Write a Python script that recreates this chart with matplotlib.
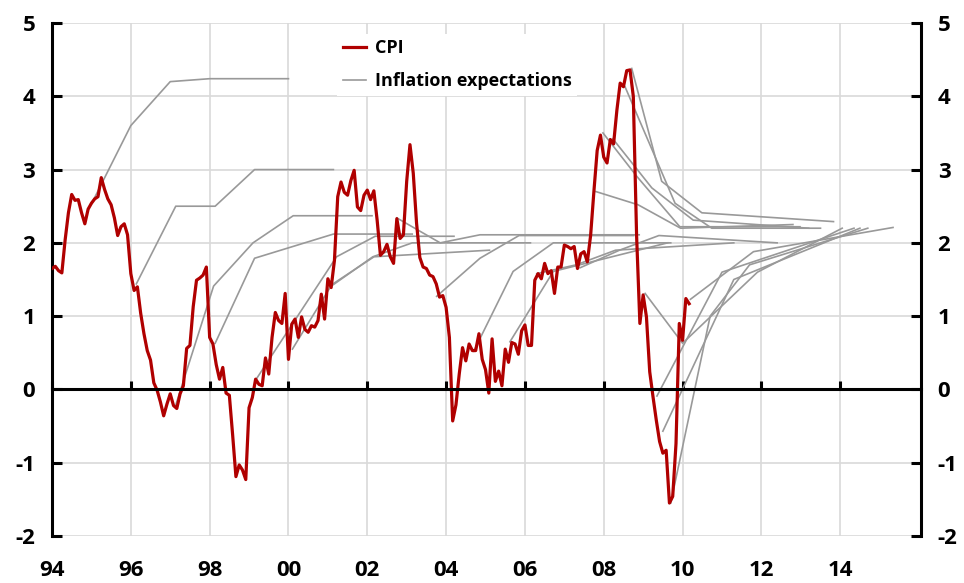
import matplotlib
matplotlib.use("Agg")
import matplotlib.pyplot as plt
import numpy as np

plt.rcParams['font.family'] = ['Open Sans', 'DejaVu Sans']
plt.rcParams['axes.unicode_minus'] = False

# CPI, monthly from Jan 1994
cpi_1994 = [1.65, 1.68, 1.62, 1.59, 2.04, 2.41, 2.66, 2.58, 2.59, 2.41, 2.26, 2.46]
cpi_1995 = [2.54, 2.60, 2.63, 2.89, 2.73, 2.60, 2.52, 2.34, 2.10, 2.22, 2.26, 2.11]
cpi_1996 = [1.58, 1.35, 1.40, 1.04, 0.76, 0.53, 0.40, 0.09, -0.01, -0.17, -0.36, -0.20]
cpi_1997 = [-0.06, -0.22, -0.26, -0.06, 0.05, 0.56, 0.60, 1.13, 1.49, 1.52, 1.56, 1.67]
cpi_1998 = [0.71, 0.62, 0.34, 0.14, 0.30, -0.05, -0.08, -0.62, -1.19, -1.03, -1.10, -1.23]
cpi_1999 = [-0.25, -0.11, 0.14, 0.07, 0.05, 0.43, 0.21, 0.71, 1.05, 0.94, 0.90, 1.31]
cpi_2000 = [0.41, 0.89, 0.96, 0.71, 0.99, 0.82, 0.78, 0.87, 0.85, 0.94, 1.30, 0.96]
cpi_2001 = [1.51, 1.39, 1.76, 2.63, 2.83, 2.69, 2.65, 2.85, 2.99, 2.49, 2.44, 2.65]
cpi_2002 = [2.72, 2.59, 2.71, 2.31, 1.83, 1.88, 1.98, 1.81, 1.72, 2.33, 2.06, 2.11]
cpi_2003 = [2.84, 3.34, 2.95, 2.27, 1.80, 1.67, 1.65, 1.56, 1.54, 1.44, 1.26, 1.28]
cpi_2004 = [1.12, 0.71, -0.43, -0.21, 0.21, 0.57, 0.39, 0.62, 0.53, 0.53, 0.76, 0.41]
cpi_2005 = [0.27, -0.05, 0.69, 0.11, 0.25, 0.05, 0.55, 0.37, 0.64, 0.62, 0.48, 0.80]
cpi_2006 = [0.88, 0.60, 0.60, 1.49, 1.58, 1.51, 1.72, 1.58, 1.62, 1.31, 1.67, 1.67]
cpi_2007 = [1.97, 1.95, 1.92, 1.95, 1.65, 1.85, 1.88, 1.74, 2.10, 2.70, 3.26, 3.47]
cpi_2008 = [3.17, 3.09, 3.41, 3.35, 3.81, 4.18, 4.13, 4.35, 4.36, 4.00, 2.10, 0.90]
cpi_2009 = [1.29, 0.99, 0.24, -0.10, -0.42, -0.71, -0.87, -0.83, -1.55, -1.46, -0.74, 0.90]
cpi_2010 = [0.67, 1.24, 1.17]

cpi = (cpi_1994 + cpi_1995 + cpi_1996 + cpi_1997 + cpi_1998 + cpi_1999 + cpi_2000
       + cpi_2001 + cpi_2002 + cpi_2003 + cpi_2004 + cpi_2005 + cpi_2006 + cpi_2007
       + cpi_2008 + cpi_2009 + cpi_2010)
cpi_dates = 1994 + np.arange(len(cpi)) / 12.0

# Inflation expectations: each survey = (dates, values)
exp_dates = [
    [1995.0, 1996.0, 1997.0, 1998.0, 2000.0],
    [1996.14, 1997.14, 1998.14, 1999.14, 2001.14],
    [1997.13, 1998.1, 1999.1, 2000.12, 2002.12],
    [1998.14, 1999.14, 2001.14, 2003.14],
    [1999.2, 2001.22, 2002.2, 2004.2],
    [2000.1, 2001.1, 2002.17, 2005.1],
    [2001.14, 2002.14, 2003.14, 2006.14],
    [2002.75, 2003.85, 2004.86, 2008.9],
    [2003.76, 2004.86, 2005.85, 2008.76],
    [2004.7, 2005.7, 2006.72, 2009.7],
    [2005.62, 2006.72, 2009.62],
    [2006.3, 2007.3, 2008.3, 2011.3],
    [2007.4, 2008.4, 2009.4, 2012.4],
    [2007.8, 2008.87, 2009.95, 2012.8],
    [2007.98, 2008.85, 2009.93, 2012.98],
    [2008.23, 2009.22, 2010.27, 2013.2],
    [2008.54, 2009.81, 2010.74, 2013.5],
    [2008.71, 2009.47, 2010.49, 2013.83],
    [2009.05, 2010.0, 2011.9, 2014.05],
    [2009.35, 2011.0, 2014.35],
    [2009.5, 2011.3, 2014.5],
    [2009.7, 2010.7, 2011.7, 2014.7],
    [2010.2, 2011.8, 2015.34],
]
exp_values = [
    [2.53, 3.6, 4.2, 4.24, 4.24],
    [1.44, 2.5, 2.5, 3.0, 3.0],
    [-0.23, 1.41, 2.0, 2.37, 2.37],
    [0.63, 1.79, 2.12, 2.12],
    [0.155, 1.81, 2.09, 2.09],
    [0.55, 1.43, 1.81, 1.9],
    [1.43, 1.81, 2.0, 2.0],
    [2.34, 2.0, 2.11, 2.11],
    [1.27, 1.79, 2.1, 2.1],
    [0.52, 1.61, 2.0, 2.0],
    [0.65, 1.61, 2.0],
    [1.58, 1.70, 1.9, 2.0],
    [1.66, 1.9, 2.1, 2.0],
    [2.70, 2.52, 2.2, 2.25],
    [3.5, 2.9, 2.22, 2.22],
    [3.42, 2.75, 2.31, 2.2],
    [4.13, 2.54, 2.2, 2.2],
    [4.38, 2.84, 2.41, 2.29],
    [1.31, 0.63, 1.6, 2.2],
    [-0.09, 1.6, 2.2],
    [-0.57, 1.5, 2.2],
    [-1.55, 1.0, 1.7, 2.2],
    [1.23, 1.88, 2.21],
]

year_ticks = [1994, 1996, 1998, 2000, 2002, 2004, 2006, 2008, 2010, 2012, 2014]
year_labels = ['94', '96', '98', '00', '02', '04', '06', '08', '10', '12', '14']
y_ticks = [-2, -1, 0, 1, 2, 3, 4, 5]

RED = '#B00000'
GREY = '#999999'

fig = plt.figure(figsize=(9.64, 5.83), dpi=100)
ax = fig.add_axes([52 / 964, 1 - 536 / 583, (921 - 52) / 964, (536 - 23) / 583])

ax.set_xlim(1994, 2016.05)
ax.set_ylim(-2, 5)

for i, (d, v) in enumerate(zip(exp_dates, exp_values)):
    ax.plot(d, v, color=GREY, lw=1.2, zorder=3,
            label='Inflation expectations' if i == 0 else None)
ax.plot(cpi_dates, cpi, color=RED, lw=2.3, zorder=4, label='CPI')

# grid
ax.set_yticks(y_ticks)
ax.set_xticks(year_ticks)
ax.grid(True, color='#D9D9D9', lw=1.2, zorder=0)
ax.set_axisbelow(True)

ax.spines['top'].set_visible(False)
for s in ['left', 'right']:
    ax.spines[s].set_linewidth(2.2)
    ax.spines[s].set_color('black')
ax.spines['bottom'].set_position(('data', 0))
ax.spines['bottom'].set_linewidth(2.2)
ax.spines['bottom'].set_zorder(5)

ax.tick_params(axis='x', direction='in', length=6, width=2.2, labelbottom=False, color='black')
ax.tick_params(axis='y', direction='in', length=7, width=2.2, left=True, right=True,
               labelleft=True, labelright=True, labelsize=16, pad=12)
ax.set_yticklabels([str(t) for t in y_ticks], fontweight='bold', fontsize=16)

sec = ax.secondary_xaxis(0)
sec.set_xticks(year_ticks)
sec.set_xticklabels(year_labels, fontweight='bold', fontsize=16)
sec.tick_params(length=0, pad=17)
sec.spines['bottom'].set_visible(False)

handles, labels = ax.get_legend_handles_labels()
order = [labels.index('CPI'), labels.index('Inflation expectations')]
leg = ax.legend([handles[i] for i in order], [labels[i] for i in order],
                loc='upper left', bbox_to_anchor=(0.318, 0.997), frameon=True,
                facecolor='white', edgecolor='none', framealpha=1, fancybox=False,
                handlelength=1.3, handletextpad=0.5, labelspacing=0.85,
                prop={'weight': 'bold', 'size': 13}, borderpad=0.3)
leg.set_zorder(6)

fig.savefig('out.png', dpi=100)
